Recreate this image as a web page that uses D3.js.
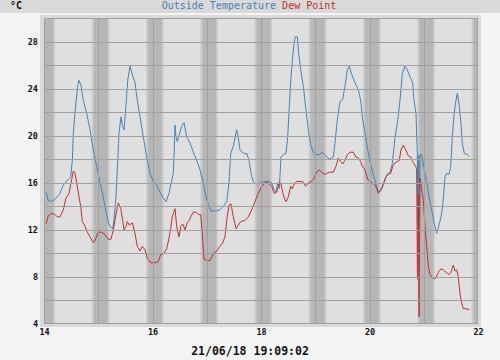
<!DOCTYPE html>
<html><head><meta charset="utf-8">
<script src="https://cdn.jsdelivr.net/npm/d3@7"></script>
<style>
html,body{margin:0;padding:0;background:#f4f4f4;}
svg{display:block;}
</style></head><body>
<svg id="c" width="500" height="360"></svg>
<script>
const titleTemp = "Outside Temperature";
const titleDew = "Dew Point";
const unitLabel = "°C";
const stamp = "21/06/18 19:09:02";
const yTicks = [4, 8, 12, 16, 20, 24, 28];
const xTicks = [14, 16, 18, 20, 22];
const days = [13, 14, 15, 16, 17, 18, 19, 20, 21, 22];

const tempTimes = [14.037,14.079,14.142,14.203,14.295,14.356,14.448,14.492,14.522,14.540,14.584,14.621,14.645,14.682,14.724,14.787,14.848,14.909,14.971,15.032,15.093,15.137,15.185,15.235,15.266,15.290,15.327,15.359,15.382,15.419,15.443,15.475,15.506,15.543,15.585,15.628,15.677,15.720,15.770,15.830,15.893,15.954,16.015,16.077,16.138,16.199,16.249,16.304,16.354,16.383,16.402,16.415,16.433,16.457,16.494,16.538,16.581,16.630,16.691,16.752,16.815,16.876,16.936,16.986,17.029,17.078,17.183,17.244,17.305,17.368,17.410,17.442,17.489,17.521,17.552,17.582,17.613,17.674,17.736,17.779,17.816,17.858,17.908,17.982,18.074,18.153,18.197,18.240,18.276,18.308,18.337,18.369,18.411,18.461,18.492,18.522,18.553,18.584,18.608,18.632,18.669,18.695,18.732,18.780,18.829,18.872,18.916,18.964,19.014,19.075,19.137,19.211,19.259,19.333,19.364,19.406,19.456,19.506,19.548,19.591,19.628,19.672,19.733,19.794,19.838,19.867,19.917,19.967,20.009,20.059,20.101,20.133,20.162,20.207,20.254,20.317,20.378,20.420,20.470,20.520,20.562,20.605,20.654,20.697,20.747,20.796,20.820,20.857,20.881,20.894,20.907,20.918,20.931,20.962,21.000,21.049,21.097,21.147,21.189,21.239,21.281,21.318,21.349,21.392,21.423,21.465,21.497,21.526,21.558,21.594,21.618,21.650,21.681,21.710,21.747,21.803,21.840];
const tempValues = [15.2,14.5,14.4,14.6,15.1,15.8,16.3,16.5,17.9,20.2,22.6,24.2,24.7,24.3,23.0,21.9,20.5,18.8,17.4,16.0,14.8,13.7,12.6,12.2,12.1,12.8,14.8,17.9,20.2,21.6,20.9,20.5,22.2,24.7,25.9,25.2,24.5,23.0,21.6,19.9,18.2,16.8,16.1,15.8,15.2,14.7,14.4,15.1,16.2,16.8,18.8,20.9,19.9,19.5,20.1,20.8,21.1,19.9,19.4,18.6,17.9,17.1,16.0,14.8,14.1,13.6,13.6,13.7,14.0,14.4,16.0,18.5,19.1,19.8,20.5,19.8,18.8,18.5,18.5,17.9,16.8,16.1,15.9,16.0,16.1,16.1,16.0,15.4,15.2,16.0,15.5,18.2,18.4,18.5,19.9,22.5,25.0,26.7,27.8,28.4,28.4,27.0,25.6,24.2,22.2,20.5,19.2,18.6,18.4,18.4,18.6,18.2,18.0,18.2,19.4,21.3,22.9,23.1,24.2,25.6,25.9,25.2,24.5,23.9,23.0,21.6,20.2,18.8,17.8,16.9,16.2,15.7,15.2,15.3,15.8,16.7,16.9,17.6,19.8,21.3,23.0,25.3,25.9,25.6,25.0,24.5,23.0,21.9,18.5,12.4,18.3,13.0,18.4,18.4,17.3,16.2,14.8,13.7,12.6,11.7,12.4,13.1,14.0,16.5,16.8,16.7,17.4,19.9,21.8,23.0,23.6,22.7,21.3,19.4,18.5,18.4,18.2];

const dewTimes = [14.037,14.079,14.142,14.203,14.245,14.295,14.356,14.406,14.461,14.498,14.540,14.571,14.603,14.645,14.677,14.706,14.756,14.798,14.848,14.909,14.940,15.001,15.064,15.124,15.185,15.235,15.277,15.327,15.370,15.414,15.451,15.475,15.512,15.535,15.572,15.628,15.677,15.720,15.770,15.812,15.862,15.904,15.967,16.046,16.107,16.151,16.212,16.262,16.304,16.335,16.365,16.415,16.446,16.488,16.520,16.557,16.599,16.641,16.678,16.704,16.752,16.802,16.844,16.888,16.918,16.949,16.999,17.060,17.121,17.183,17.244,17.294,17.336,17.368,17.410,17.447,17.489,17.539,17.582,17.626,17.705,17.766,17.829,17.889,17.950,18.013,18.074,18.135,18.197,18.245,18.289,18.332,18.363,18.400,18.429,18.461,18.503,18.547,18.577,18.614,18.658,18.719,18.769,18.824,18.872,18.922,18.982,19.027,19.075,19.119,19.167,19.211,19.259,19.333,19.382,19.425,19.469,19.506,19.548,19.591,19.641,19.701,19.746,19.794,19.838,19.867,19.904,19.935,19.967,20.009,20.059,20.101,20.133,20.162,20.207,20.254,20.304,20.347,20.391,20.428,20.470,20.512,20.549,20.581,20.623,20.667,20.715,20.759,20.796,20.838,20.869,20.884,20.899,20.915,20.931,20.962,20.992,21.023,21.054,21.084,21.115,21.165,21.226,21.268,21.318,21.360,21.410,21.465,21.502,21.545,21.576,21.607,21.637,21.668,21.697,21.729,21.779,21.840];
const dewValues = [12.5,13.2,13.4,13.3,13.1,13.1,13.7,14.7,15.1,16.0,17.0,16.8,16.0,14.8,14.0,12.7,12.3,11.8,11.4,10.9,11.1,11.8,11.8,11.6,11.2,11.2,12.0,13.3,14.3,13.8,12.8,12.0,12.3,12.7,12.4,12.6,11.7,10.6,10.2,10.6,10.3,9.6,9.2,9.2,9.3,9.9,10.0,10.4,11.3,12.1,13.1,13.8,12.3,11.4,12.3,12.5,12.0,12.6,12.8,13.1,13.5,13.5,13.3,13.3,11.7,9.5,9.4,9.4,10.0,10.2,10.6,10.9,11.4,12.8,14.1,14.2,13.1,12.1,12.4,12.7,12.8,13.1,13.7,14.4,15.1,15.7,16.0,16.0,15.7,15.1,15.2,16.0,16.0,15.2,14.7,14.4,14.8,15.7,15.5,15.9,16.1,16.1,16.1,15.7,16.0,16.1,16.4,16.9,17.1,16.9,16.7,16.8,16.9,16.9,17.4,18.1,17.8,17.6,17.9,18.4,18.6,18.6,18.2,18.1,17.8,17.4,17.2,16.8,16.3,16.1,16.0,15.8,15.5,15.1,15.4,15.9,16.5,16.7,16.8,17.4,17.7,17.8,17.9,18.8,19.2,18.8,18.3,18.2,17.8,17.5,17.2,7.8,15.0,4.6,16.4,15.5,14.5,12.3,10.6,8.9,8.2,7.9,7.9,8.4,8.7,8.6,8.4,8.2,8.4,9.0,8.5,8.6,8.0,6.6,5.8,5.3,5.3,5.2];

const svg = d3.select("#c");
const W = 500, H = 360;
const x = d3.scaleLinear().domain([14, 22]).range([44, 478]);
const y = d3.scaleLinear().domain([4, 30]).range([324, 18]);
const mono = "'DejaVu Sans Mono', 'Liberation Mono', monospace";

svg.append("rect").attr("width", W).attr("height", H).attr("fill", "#f4f4f4");
svg.append("rect").attr("x", 0).attr("y", 0).attr("width", W).attr("height", 13).attr("fill", "#d9d9d9");
svg.append("rect").attr("x", 40).attr("y", 15).attr("width", 441).attr("height", 312).attr("fill", "#d9d9d9");
svg.append("rect").attr("x", 44).attr("y", 18).attr("width", 434).attr("height", 306).attr("fill", "#dfdfdf");

const defs = svg.append("defs");
defs.append("clipPath").attr("id", "pc").append("rect")
  .attr("x", 44).attr("y", 18).attr("width", 434).attr("height", 306);
const g = defs.append("linearGradient").attr("id", "night").attr("x1", 0).attr("x2", 1).attr("y1", 0).attr("y2", 0);
[[0, "#dfdfdf"], [0.095, "#cacaca"], [0.2, "#b6b6b6"], [0.83, "#b6b6b6"], [0.92, "#cacaca"], [1, "#dfdfdf"]]
  .forEach(([o, c]) => g.append("stop").attr("offset", o).attr("stop-color", c));

const plot = svg.append("g").attr("clip-path", "url(#pc)");
plot.selectAll("rect.n").data(days).join("rect").attr("class", "n")
  .attr("x", d => x(d - 3.2 / 24)).attr("width", d => x(d + 5.2 / 24) - x(d - 3.2 / 24))
  .attr("y", 18).attr("height", 306).attr("fill", "url(#night)");

const grid = svg.append("g").attr("shape-rendering", "crispEdges");
grid.append("g").attr("transform", "translate(44,0)")
  .call(d3.axisLeft(y).tickValues(d3.range(6, 30, 2)).tickSize(-434).tickFormat(""))
  .call(s => s.select(".domain").remove())
  .call(s => s.selectAll("line").attr("stroke", "#a0a0a0"));
grid.append("g").attr("transform", "translate(0,18)")
  .call(d3.axisBottom(x).tickValues(d3.range(15, 22)).tickSize(306).tickFormat(""))
  .call(s => s.select(".domain").remove())
  .call(s => s.selectAll("line").attr("stroke", "#a0a0a0"));
grid.append("rect").attr("x", 44.5).attr("y", 18.5).attr("width", 433).attr("height", 305)
  .attr("fill", "none").attr("stroke", "#a0a0a0");

const line = d3.line().x(d => x(d[0])).y(d => y(d[1]));
const tData = tempTimes.map((t, i) => [t, tempValues[i]]);
const dData = dewTimes.map((t, i) => [t, dewValues[i]]);
plot.append("path").datum(tData).attr("d", line).attr("fill", "none")
  .attr("stroke", "#4682b4").attr("stroke-width", 1);
plot.append("path").datum(dData).attr("d", line).attr("fill", "none")
  .attr("stroke", "#b93030").attr("stroke-width", 1);

const ya = svg.append("g").attr("transform", "translate(38,0)")
  .call(d3.axisLeft(y).tickValues(yTicks).tickSize(0).tickPadding(0).tickFormat(d3.format("d")));
ya.select(".domain").remove();
ya.selectAll("text").attr("font-family", mono).attr("font-size", 8.5).attr("font-weight", "bold").attr("fill", "#111");

const xa = svg.append("g").attr("transform", "translate(0,329)")
  .call(d3.axisBottom(x).tickValues(xTicks).tickSize(0).tickPadding(0).tickFormat(d3.format("d")));
xa.select(".domain").remove();
xa.selectAll("text").attr("font-family", mono).attr("font-size", 8.5).attr("font-weight", "bold").attr("fill", "#111");

const t = svg.append("text").attr("x", 249).attr("y", 9).attr("text-anchor", "middle")
  .attr("font-family", mono).attr("font-size", 10);
t.append("tspan").attr("fill", "#4682b4").text(titleTemp + " ");
t.append("tspan").attr("fill", "#b93030").text(titleDew);

svg.append("text").attr("x", 10).attr("y", 9).attr("font-family", mono).attr("font-size", 10)
  .attr("font-weight", "bold").attr("fill", "#111").text(unitLabel);

svg.append("text").attr("x", 250).attr("y", 355).attr("text-anchor", "middle")
  .attr("font-family", mono).attr("font-size", 11.5).attr("font-weight", "bold").attr("fill", "#111").text(stamp);
</script>
</body></html>
